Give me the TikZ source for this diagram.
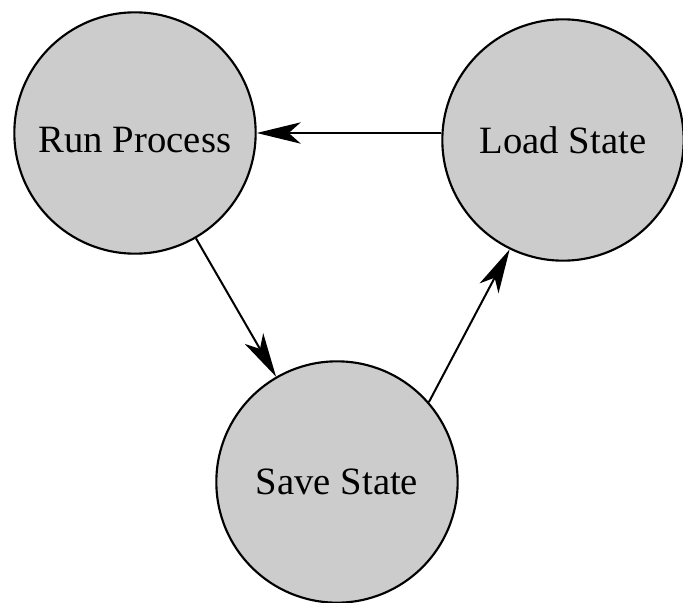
\documentclass[tikz,border=0pt]{standalone}
\usepackage{fontspec}
\setmainfont{Liberation Serif}
\usetikzlibrary{arrows.meta, positioning}

\begin{document}
\begin{tikzpicture}[x=0.75pt, y=-0.75pt]
    \tikzstyle{state} = [circle, minimum size=181pt, inner sep=0pt, draw=black, line width=1.6pt, fill=black!20, font=\fontsize{29}{35}\selectfont]
    \tikzstyle{arrow} = [line width=1.5pt, -{Stealth[length=33pt, width=16pt, inset=9pt]}]

    \useasboundingbox (0,0) rectangle (683,603);

    \node[state, text height=29.5pt, text depth=0pt] (run) at (135,133) {Run Process};
    \node[state] (load) at (563,140) {Load State};
    \node[state] (save) at (337,482) {Save State};

    \draw[arrow] (load.west |- run.east) -- (run.east);
    \draw[arrow] (run) -- (save);
    \draw[arrow] (save.41) -- (load.-116);
\end{tikzpicture}
\end{document}
